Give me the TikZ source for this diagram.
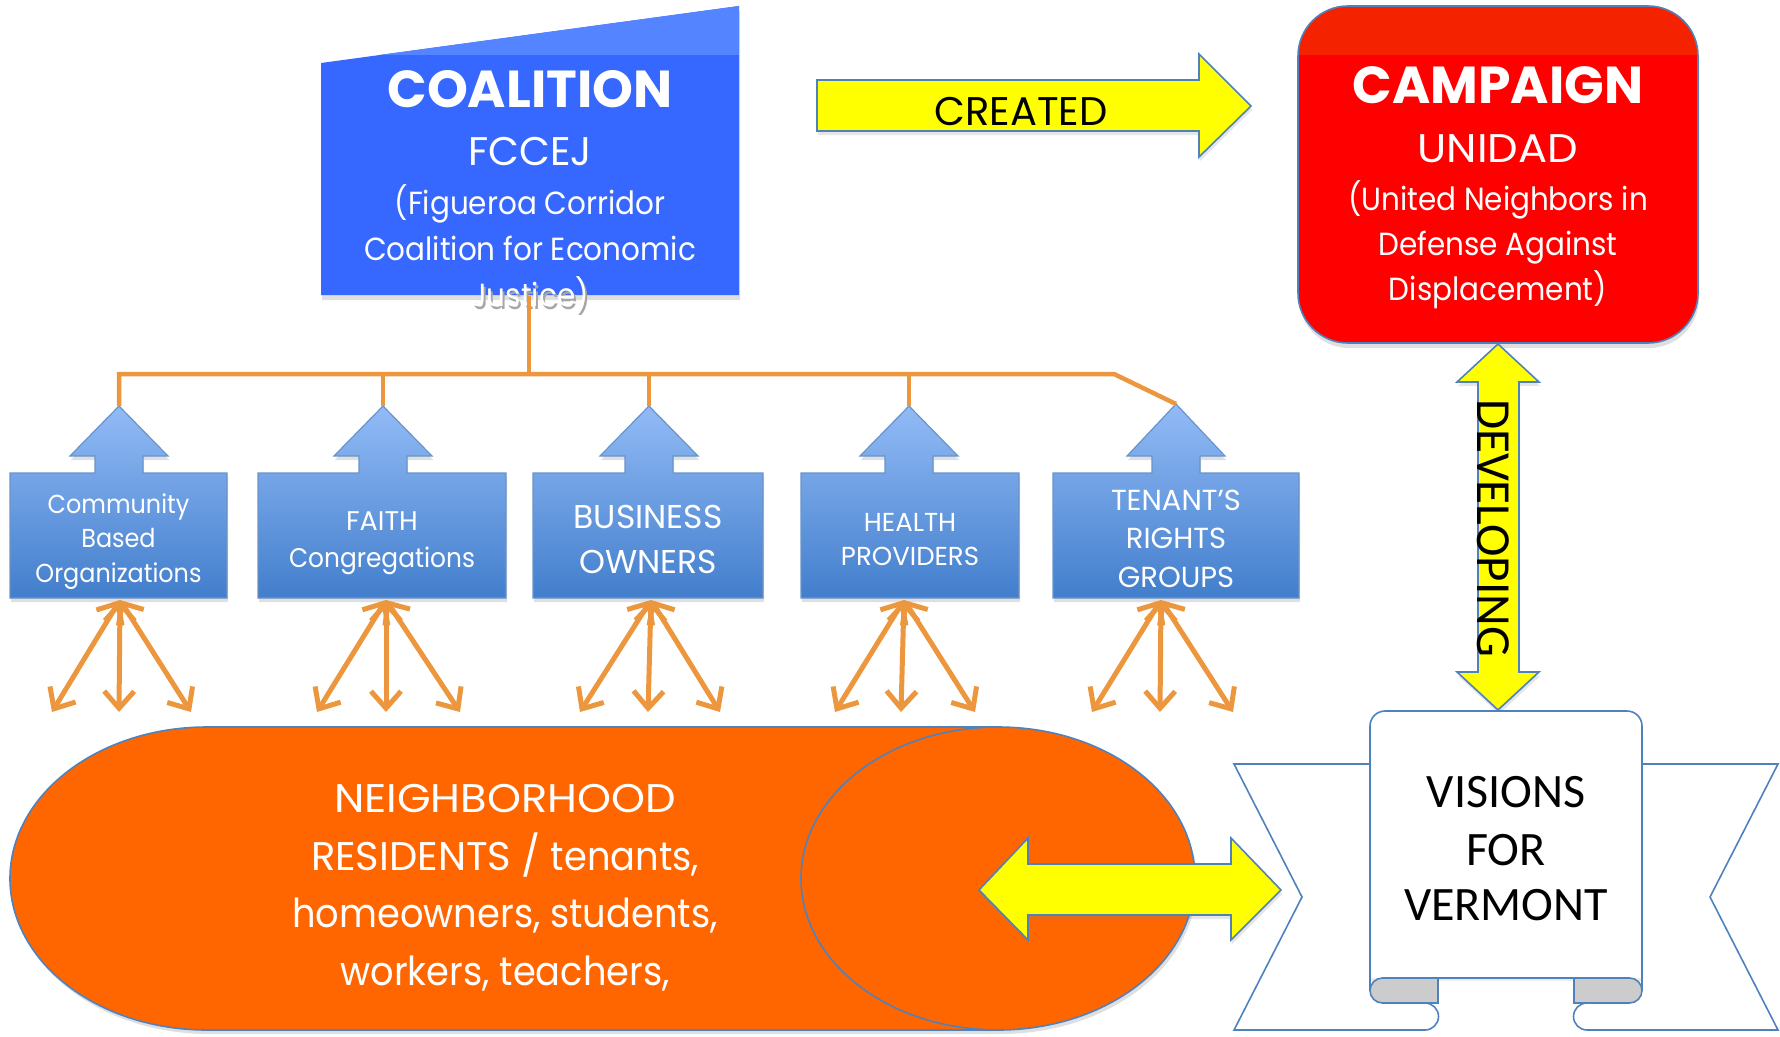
\documentclass[tikz,border=0pt]{standalone}
\usepackage{fontspec}
\setmainfont{Poppins}[FakeStretch=0.92]
\newfontfamily\capsfont{Poppins}
\newfontfamily\widefont{Poppins}[FakeStretch=1.08]
\newfontfamily\calfont{Carlito}
\usetikzlibrary{arrows.meta,shadows}
\definecolor{cblue}{RGB}{54,104,255}
\definecolor{cbluetop}{RGB}{84,132,255}
\definecolor{cred}{RGB}{255,0,0}
\definecolor{credtop}{RGB}{245,34,0}
\definecolor{edge}{RGB}{79,129,189}
\definecolor{orgtop}{RGB}{146,187,246}
\definecolor{orgbot}{RGB}{66,126,204}
\definecolor{conn}{RGB}{236,150,62}
\definecolor{pillc}{RGB}{255,102,0}
\definecolor{yel}{RGB}{255,255,0}
\definecolor{foldc}{RGB}{204,204,204}
\newcommand\myfs[2]{\fontsize{#1}{#2}\selectfont}
\tikzset{
  connline/.style={draw=conn, line width=4.5pt},
  fanarrow/.style={draw=conn, line width=5pt,
    {Straight Barb[length=17pt,width=30pt]}-{Straight Barb[length=17pt,width=30pt]}},
  orgshape/.style={draw=edge!85, line width=1.2pt, top color=orgtop, bottom color=orgbot,
    drop shadow={shadow xshift=1pt, shadow yshift=-4pt, opacity=0.25}},
  yarrow/.style={fill=yel, draw=edge, line width=1.6pt,
    drop shadow={shadow xshift=1pt, shadow yshift=-4pt, opacity=0.2}},
  wtext/.style={text=white, inner sep=0pt, anchor=base},
  btext/.style={text=black, inner sep=0pt, anchor=base},
  outl/.style={draw=edge, line width=1.6pt},
}
\newcommand\orgbox[5]{% x1, x2, cx, tipy, name
  \path[orgshape] (#1,473) -- (#3-24,473) -- (#3-24,456) -- (#3-49,456) -- (#3,#4)
    -- (#3+49,456) -- (#3+24,456) -- (#3+24,473) -- (#2,473) -- (#2,598) -- (#1,598) -- cycle;
  \coordinate (#5tip) at (#3,#4);
}
\newcommand\fan[5]{% name, origin x, left x, mid x, right x
  \coordinate (#1bot) at (#2,600);
  \coordinate (#1L) at (#3,712);
  \coordinate (#1M) at (#4,712);
  \coordinate (#1R) at (#5,712);
  \draw[fanarrow] (#1bot) -- (#1L);
  \draw[fanarrow] (#1bot) -- (#1M);
  \draw[fanarrow] (#1bot) -- (#1R);
}
\begin{document}
\begin{tikzpicture}[x=1pt,y=-1pt]
\useasboundingbox (0,0) rectangle (1780,1036);

% ---------- COALITION ----------
\path[fill=cblue, drop shadow={shadow xshift=1pt, shadow yshift=-5pt, opacity=0.25}]
  (321,63) -- (739,6) -- (739,295) -- (321,295) -- cycle;
\begin{scope}
  \clip (321,63) -- (739,6) -- (739,295) -- (321,295) -- cycle;
  \fill[cbluetop] (321,0) rectangle (739,55);
\end{scope}
\node[wtext, font=\capsfont\myfs{52}{60}\bfseries] (coal1) at (530,107) {COALITION};
\node[wtext, font=\capsfont\myfs{40}{48}] (coal2) at (530,165) {FCCEJ};
\node[wtext, font=\myfs{32}{46}] (coal3) at (530,214) {(Figueroa Corridor};
\node[wtext, font=\myfs{32}{46}] (coal4) at (530,260) {Coalition for Economic};
\node[text=black!35, inner sep=0pt, anchor=base, font=\myfs{32}{46}] (coal5s) at (532,309) {Justice)};
\node[wtext, font=\myfs{32}{46}] (coal5) at (530,306) {Justice)};
\coordinate (coalbot) at (529,296);

% ---------- CAMPAIGN ----------
\path[fill=cred, rounded corners=50pt, drop shadow={shadow xshift=1pt, shadow yshift=-5pt, opacity=0.25}]
  (1298,6) rectangle (1698,343);
\begin{scope}
  \clip[rounded corners=50pt] (1298,6) rectangle (1698,343);
  \fill[credtop] (1290,0) rectangle (1710,55);
\end{scope}
\draw[edge, line width=1.6pt, rounded corners=50pt] (1298,6) rectangle (1698,343);
\node[wtext, font=\capsfont\myfs{52}{60}\bfseries] (camp1) at (1498,103) {CAMPAIGN};
\node[wtext, font=\widefont\myfs{40}{48}] (camp2) at (1498,162) {UNIDAD};
\node[wtext, font=\myfs{32}{46}] (camp3) at (1498,210) {(United Neighbors in};
\node[wtext, font=\myfs{32}{46}] (camp4) at (1498,255) {Defense Against};
\node[wtext, font=\myfs{32}{46}] (camp5) at (1498,300) {Displacement)};

% ---------- CREATED arrow ----------
\path[yarrow] (817,80) -- (1199,80) -- (1199,54) -- (1251,106) -- (1199,157) -- (1199,131) -- (817,131) -- cycle;
\node[btext, font=\capsfont\myfs{40}{48}] (created) at (1021,125) {CREATED};

% ---------- DEVELOPING arrow ----------
\path[yarrow] (1498,344) -- (1539,382) -- (1519,382) -- (1519,672) -- (1539,672) -- (1498,710)
  -- (1457,672) -- (1478,672) -- (1478,382) -- (1457,382) -- cycle;
\node[btext, rotate=-90, font=\calfont\myfs{49}{52}] (developing) at (1477,528) {DEVELOPING};

% ---------- org boxes ----------
\orgbox{10}{227}{119}{406}{cbo}
\orgbox{258}{506}{383}{406}{faith}
\orgbox{533}{763}{649}{406}{bus}
\orgbox{801}{1019}{909}{406}{health}
\orgbox{1053}{1299}{1176}{404}{ten}

\node[wtext, font=\myfs{26}{34}] (cbo1) at (118.5,513) {Community};
\node[wtext, font=\myfs{26}{34}] (cbo2) at (118.5,547) {Based};
\node[wtext, font=\myfs{26}{34}] (cbo3) at (118.5,582) {Organizations};
\node[wtext, font=\capsfont\myfs{27}{36}] (faith1) at (382,530) {FAITH};
\node[wtext, font=\myfs{27}{36}] (faith2) at (382,567) {Congregations};
\node[wtext, font=\capsfont\myfs{33}{45}] (bus1) at (648,528) {BUSINESS};
\node[wtext, font=\capsfont\myfs{33}{45}] (bus2) at (648,573) {OWNERS};
\node[wtext, font=\capsfont\myfs{26}{34}] (health1) at (910,531) {HEALTH};
\node[wtext, font=\capsfont\myfs{26}{34}] (health2) at (910,565) {PROVIDERS};
\node[wtext, font=\capsfont\myfs{29}{38}] (ten1) at (1176,510) {TENANT’S};
\node[wtext, font=\capsfont\myfs{29}{38}] (ten2) at (1176,548) {RIGHTS};
\node[wtext, font=\capsfont\myfs{29}{38}] (ten3) at (1176,587) {GROUPS};

% ---------- orange tree ----------
\coordinate (hub) at (529,374);
\coordinate (kink) at (1114,374);
\draw[connline] (coalbot) -- (hub);
\draw[connline] (cbotip) -- (cbotip |- hub) -- (kink) -- (tentip);
\draw[connline] (faithtip) -- (faithtip |- hub);
\draw[connline] (bustip) -- (bustip |- hub);
\draw[connline] (healthtip) -- (healthtip |- hub);

% ---------- fans ----------
\fan{cbo}{120}{52}{119}{191}
\fan{faith}{386}{317}{386}{460}
\fan{bus}{651}{580}{648}{720}
\fan{health}{904}{835}{901}{975}
\fan{ten}{1161}{1092}{1160}{1233}

% ---------- residents can ----------
\path[fill=pillc, drop shadow={shadow xshift=2pt, shadow yshift=-4pt, opacity=0.25}]
  (998,727) -- (207,727) arc[start angle=270, end angle=90, x radius=197, y radius=151.5]
  -- (998,1030) arc[start angle=90, end angle=-90, x radius=197, y radius=151.5] -- cycle;
\draw[outl] (998,727) -- (207,727) arc[start angle=270, end angle=90, x radius=197, y radius=151.5]
  -- (998,1030);
\draw[outl] (998,878.5) ellipse[x radius=197, y radius=151.5];
\node[wtext, font=\widefont\myfs{40}{58}] (res1) at (505,812) {NEIGHBORHOOD};
\node[wtext, font=\myfs{40}{58}] (res2) at (505,870) {{\capsfont RESIDENTS /} tenants,};
\node[wtext, font=\myfs{40}{58}] (res3) at (505,927) {homeowners, students,};
\node[wtext, font=\myfs{40}{58}] (res4) at (505,985) {workers, teachers,};

% ---------- VISIONS ribbon ----------
\filldraw[outl, fill=white] (1400,764) -- (1234,764) -- (1302,897) -- (1234,1030) -- (1425,1030)
  arc[start angle=90, end angle=-90, radius=13.5];
\filldraw[outl, fill=white] (1612,764) -- (1778,764) -- (1710,897) -- (1778,1030) -- (1587,1030)
  arc[start angle=90, end angle=270, radius=13.5];
\path[fill=white, rounded corners=15pt, drop shadow={shadow xshift=1pt, shadow yshift=-3pt, opacity=0.15}]
  (1370,978) -- (1370,711) -- (1642,711) [sharp corners] -- (1642,978) -- cycle;
\draw[outl, rounded corners=15pt] (1370,991) -- (1370,711) -- (1642,711) -- (1642,991);
\draw[outl] (1382,978) -- (1630,978);
\filldraw[outl, fill=foldc] (1438,978) -- (1382.5,978) arc[start angle=270, end angle=90, radius=12.5]
  -- (1438,1003) -- cycle;
\filldraw[outl, fill=foldc] (1574,978) -- (1629.5,978) arc[start angle=-90, end angle=90, radius=12.5]
  -- (1574,1003) -- cycle;
\node[btext, font=\calfont\myfs{48}{57}] (vis1) at (1506,807) {VISIONS};
\node[btext, font=\calfont\myfs{48}{57}] (vis2) at (1506,865) {FOR};
\node[btext, font=\calfont\myfs{48}{57}] (vis3) at (1506,920) {VERMONT};

% ---------- horizontal double arrow ----------
\path[yarrow] (979,890) -- (1028,838) -- (1028,864) -- (1231,864) -- (1231,838) -- (1281,890)
  -- (1231,940) -- (1231,915) -- (1028,915) -- (1028,940) -- cycle;
\end{tikzpicture}
\end{document}
